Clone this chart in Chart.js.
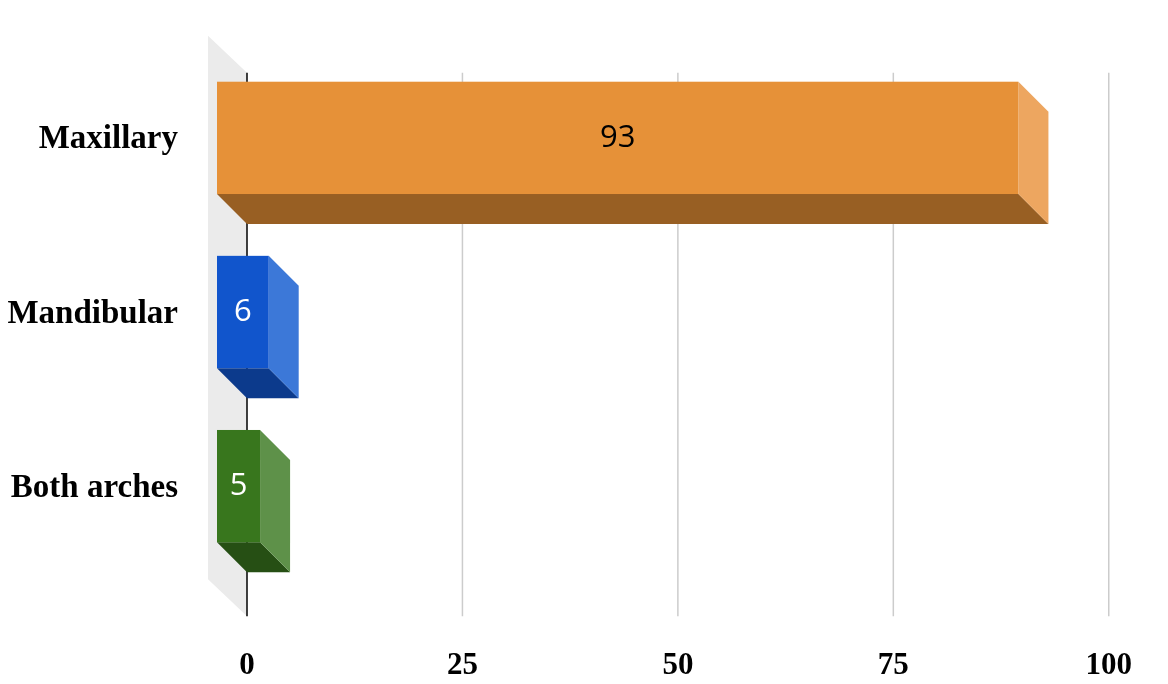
<!DOCTYPE html>
<html><head><meta charset="utf-8">
<script src="https://cdn.jsdelivr.net/npm/chart.js@4/dist/chart.umd.min.js"></script>
<style>html,body{margin:0;background:#fff}#w{width:1168px;height:684px}</style>
</head><body><div id="w"><canvas id="c"></canvas></div>
<script>
const categories = ["Maxillary","Mandibular","Both arches"];
const values = [93,6,5];
const xTicks = [0,25,50,75,100];
const fronts = ["#E69138","#1155CC","#38761D"];
const sides = ["#EDA660","#3C78D8","#5E9149"];
const bottoms = ["#985F23","#0C3A8C","#264F14"];
const labelColors = ["#000000","#ffffff","#ffffff"];
const D = 30;
const plugin = {
  id:'threeD',
  beforeDatasetsDraw(chart){
    const ctx=chart.ctx, xs=chart.scales.x, a=chart.chartArea;
    const x0=xs.getPixelForValue(0), top=a.top-8, bot=a.bottom+13;
    ctx.save();
    ctx.fillStyle="#EBEBEB";
    ctx.beginPath();ctx.moveTo(x0-39,top-37);ctx.lineTo(x0,top);ctx.lineTo(x0,bot);ctx.lineTo(x0-39,bot-37);ctx.closePath();ctx.fill();
    ctx.lineWidth=1.5;
    xTicks.forEach(t=>{const x=xs.getPixelForValue(t);ctx.strokeStyle=t===0?"#000":"#CCCCCC";ctx.beginPath();ctx.moveTo(x,top);ctx.lineTo(x,bot);ctx.stroke();});
    ctx.restore();
  },
  afterDatasetsDraw(chart){
    const ctx=chart.ctx, meta=chart.getDatasetMeta(0);
    ctx.save();
    meta.data.forEach((el,i)=>{
      const x1=el.base, x2=el.x, h=el.height, yt=el.y-h/2, yb=el.y+h/2;
      ctx.fillStyle=bottoms[i];
      ctx.beginPath();ctx.moveTo(x1-D,yb-D);ctx.lineTo(x2-D,yb-D);ctx.lineTo(x2,yb);ctx.lineTo(x1,yb);ctx.closePath();ctx.fill();
      ctx.fillStyle=sides[i];
      ctx.beginPath();ctx.moveTo(x2-D,yt-D);ctx.lineTo(x2,yt);ctx.lineTo(x2,yb);ctx.lineTo(x2-D,yb-D);ctx.closePath();ctx.fill();
      ctx.fillStyle=fronts[i];
      ctx.fillRect(x1-D,yt-D,x2-x1,h);
      ctx.fillStyle=labelColors[i];
      ctx.font="31px 'Open Sans', sans-serif";
      ctx.textAlign="center";ctx.textBaseline="middle";
      ctx.fillText(String(values[i]),(x1+x2)/2-D,el.y-D);
    });
    ctx.restore();
  }
};
new Chart(document.getElementById('c'),{
  type:'bar',
  data:{labels:categories,datasets:[{data:values,backgroundColor:'rgba(0,0,0,0)',barPercentage:0.645,categoryPercentage:1}]},
  options:{
    indexAxis:'y',responsive:true,maintainAspectRatio:false,animation:false,
    layout:{padding:{top:53,right:24,bottom:0,left:0}},
    plugins:{legend:{display:false},tooltip:{enabled:false}},
    scales:{
      x:{min:0,max:100,afterBuildTicks(s){s.ticks=xTicks.map(v=>({value:v}));},
        afterFit(s){s.height=77;},
        grid:{display:false},border:{display:false},
        ticks:{color:'#000',font:{family:"'Liberation Serif', serif",size:31,weight:'bold'},padding:36}},
      y:{grid:{display:false},border:{display:false},afterFit(s){s.width=247;},
        ticks:{color:'#000',font:{family:"'Liberation Serif', serif",size:33,weight:'bold'},padding:61,labelOffset:-28}}
    }
  },
  plugins:[plugin]
});
</script></body></html>
